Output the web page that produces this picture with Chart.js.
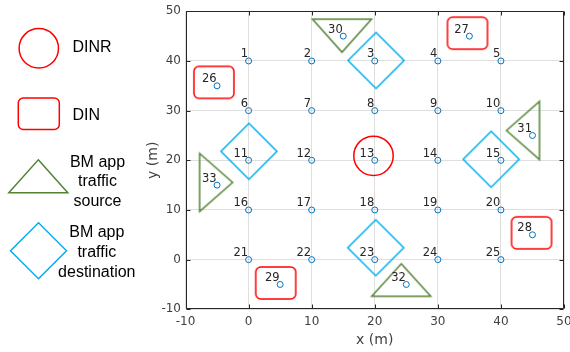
<!DOCTYPE html>
<html>
<head>
<meta charset="utf-8">
<script src="https://cdn.jsdelivr.net/npm/chart.js@4/dist/chart.umd.min.js"></script>
<style>
  html, body { margin: 0; padding: 0; background: #fff; }
  #wrap { position: relative; width: 570px; height: 352px; }
</style>
</head>
<body>
<div id="wrap"><canvas id="c" width="570" height="352"></canvas></div>
<script>
// Node numbers and positions (m): 25 grid nodes, then 8 extra nodes
const nodeIds = [1, 2, 3, 4, 5, 6, 7, 8, 9, 10, 11, 12, 13, 14, 15, 16, 17, 18, 19, 20,
                 21, 22, 23, 24, 25, 26, 27, 28, 29, 30, 31, 32, 33];
const nodeX = [0, 10, 20, 30, 40, 0, 10, 20, 30, 40, 0, 10, 20, 30, 40, 0, 10, 20, 30, 40,
               0, 10, 20, 30, 40, -5, 35, 45, 5, 15, 45, 25, -5];
const nodeY = [40, 40, 40, 40, 40, 30, 30, 30, 30, 30, 20, 20, 20, 20, 20, 10, 10, 10, 10, 10,
               0, 0, 0, 0, 0, 35, 45, 5, -5, 45, 25, -5, 15];

// DINR marker centre
const dinrX = [19.8];
const dinrY = [20.9];
// DIN markers (around nodes 26, 27, 28, 29)
const dinX = [-5.5, 34.7, 44.85, 4.3];
const dinY = [35.7, 45.6, 5.4, -4.7];
// BM app traffic sources (around nodes 30, 31, 32, 33)
const srcX = [14.8, 43.5, 24.2, -5.15];
const srcY = [45.1, 26.0, -4.1, 15.55];
// BM app traffic destinations (around nodes 3, 11, 15, 23)
const dstX = [20.2, 0.05, 38.45, 20.15];
const dstY = [40.1, 21.8, 20.2, 2.4];

// Axis ticks
const xTicks = [-10, 0, 10, 20, 30, 40, 50];
const yTicks = [-10, 0, 10, 20, 30, 40, 50];

// Legend entries
const legendLabels = [['DINR'], ['DIN'], ['BM app', 'traffic', 'source'], ['BM app', 'traffic', 'destination']];

const RED = '#ff0000';
const GREEN = '#548235';
const CYAN = '#00b0f0';
const BLUE = '#0072bd';
const AXIS = '#262626';

// ---- shape paths ----
function pathRoundRect(ctx, cx, cy, w, h, r) {
  const x = cx - w / 2, y = cy - h / 2;
  ctx.beginPath();
  ctx.moveTo(x + r, y);
  ctx.lineTo(x + w - r, y);
  ctx.arcTo(x + w, y, x + w, y + r, r);
  ctx.lineTo(x + w, y + h - r);
  ctx.arcTo(x + w, y + h, x + w - r, y + h, r);
  ctx.lineTo(x + r, y + h);
  ctx.arcTo(x, y + h, x, y + h - r, r);
  ctx.lineTo(x, y + r);
  ctx.arcTo(x, y, x + r, y, r);
  ctx.closePath();
}
function pathTri(ctx, cx, cy, w, h, dir) {
  const l = cx - w / 2, r = cx + w / 2, t = cy - h / 2, b = cy + h / 2;
  ctx.beginPath();
  if (dir === 'up') { ctx.moveTo(cx, t); ctx.lineTo(r, b); ctx.lineTo(l, b); }
  else if (dir === 'down') { ctx.moveTo(l, t); ctx.lineTo(r, t); ctx.lineTo(cx, b); }
  else if (dir === 'left') { ctx.moveTo(l, cy); ctx.lineTo(r, t); ctx.lineTo(r, b); }
  else { ctx.moveTo(l, t); ctx.lineTo(r, cy); ctx.lineTo(l, b); }
  ctx.closePath();
}
function pathDiamond(ctx, cx, cy, hw, hh) {
  ctx.beginPath();
  ctx.moveTo(cx, cy - hh);
  ctx.lineTo(cx + hw, cy);
  ctx.lineTo(cx, cy + hh);
  ctx.lineTo(cx - hw, cy);
  ctx.closePath();
}

// Build an outline image used as a point style
function makeStyle(w, h, color, pathFn) {
  const m = 3;
  const cv = document.createElement('canvas');
  cv.width = Math.ceil(w + 2 * m);
  cv.height = Math.ceil(h + 2 * m);
  const g = cv.getContext('2d');
  g.strokeStyle = color;
  g.lineWidth = 1.5;
  g.lineJoin = 'miter';
  pathFn(g, cv.width / 2, cv.height / 2);
  g.stroke();
  return cv;
}

const dinStyle = makeStyle(40, 32, RED, (g, cx, cy) => pathRoundRect(g, cx, cy, 40, 32, 5));
const triStyles = {
  down: makeStyle(59, 33, GREEN, (g, cx, cy) => pathTri(g, cx, cy, 59, 33, 'down')),
  left: makeStyle(33, 58, GREEN, (g, cx, cy) => pathTri(g, cx, cy, 33, 58, 'left')),
  up: makeStyle(59, 32.5, GREEN, (g, cx, cy) => pathTri(g, cx, cy, 59, 32.5, 'up')),
  right: makeStyle(33, 58, GREEN, (g, cx, cy) => pathTri(g, cx, cy, 33, 58, 'right'))
};
const srcDir = ['down', 'left', 'up', 'right'];
const dstStyle = makeStyle(56, 56, CYAN, (g, cx, cy) => pathDiamond(g, cx, cy, 28, 28));

const pts = (xs, ys) => xs.map((x, i) => ({ x: x, y: ys[i] }));

// Frame, inward ticks, node numbers and the side legend
const decorations = {
  id: 'decorations',
  afterDatasetsDraw(chart) {
    const ctx = chart.ctx;
    const a = chart.chartArea;
    const xs = chart.scales.x, ys = chart.scales.y;
    ctx.save();

    // node numbers
    ctx.font = '11.5px "DejaVu Sans"';
    ctx.fillStyle = AXIS;
    ctx.textAlign = 'right';
    ctx.textBaseline = 'alphabetic';
    nodeIds.forEach((id, i) => {
      const px = xs.getPixelForValue(nodeX[i]);
      const py = ys.getPixelForValue(nodeY[i]);
      ctx.fillText(String(id), px - 0.5, py - 3.5);
    });

    // frame and ticks
    ctx.strokeStyle = AXIS;
    ctx.lineWidth = 1;
    const L = Math.round(a.left) + 0.5, R = Math.round(a.right) - 0.5;
    const T = Math.round(a.top) + 0.5, B = Math.round(a.bottom) - 0.5;
    ctx.beginPath();
    ctx.rect(L, T, R - L, B - T);
    const tl = 4;
    xTicks.forEach(v => {
      const px = Math.round(xs.getPixelForValue(v)) + 0.5;
      ctx.moveTo(px, B); ctx.lineTo(px, B - tl);
      ctx.moveTo(px, T); ctx.lineTo(px, T + tl);
    });
    yTicks.forEach(v => {
      const py = Math.round(ys.getPixelForValue(v)) + 0.5;
      ctx.moveTo(L, py); ctx.lineTo(L + tl, py);
      ctx.moveTo(R, py); ctx.lineTo(R - tl, py);
    });
    ctx.stroke();

    // legend
    ctx.lineWidth = 1.5;
    ctx.strokeStyle = RED;
    ctx.beginPath(); ctx.arc(38.8, 48.3, 19.7, 0, Math.PI * 2); ctx.stroke();
    pathRoundRect(ctx, 38.8, 113.8, 41, 31.5, 5); ctx.stroke();
    ctx.strokeStyle = GREEN;
    pathTri(ctx, 38.3, 176.3, 59, 33, 'up'); ctx.stroke();
    ctx.strokeStyle = CYAN;
    pathDiamond(ctx, 38.5, 250.7, 28, 28); ctx.stroke();

    ctx.fillStyle = '#000';
    ctx.font = '16px "Liberation Sans", Arial, sans-serif';
    ctx.textAlign = 'left';
    ctx.fillText(legendLabels[0][0], 72.5, 51.7);
    ctx.fillText(legendLabels[1][0], 72.5, 120);
    ctx.textAlign = 'center';
    legendLabels[2].forEach((s, i) => ctx.fillText(s, 97.5, 166.7 + i * 19.7));
    legendLabels[3].forEach((s, i) => ctx.fillText(s, 96.8, 237.3 + i * 19.7));

    ctx.restore();
  }
};

const gridCfg = { color: 'rgba(38,38,38,0.15)', drawTicks: false, lineWidth: 1 };
const tickFont = { family: 'DejaVu Sans', size: 12 };

new Chart(document.getElementById('c'), {
  type: 'scatter',
  data: {
    datasets: [
      { label: 'nodes', data: pts(nodeX, nodeY), pointStyle: 'circle', pointRadius: 3,
        borderColor: BLUE, backgroundColor: 'rgba(0,0,0,0)', borderWidth: 1 },
      { label: 'DINR', data: pts(dinrX, dinrY), pointStyle: 'circle', pointRadius: 19.7,
        borderColor: RED, backgroundColor: 'rgba(0,0,0,0)', borderWidth: 1.5 },
      { label: 'DIN', data: pts(dinX, dinY), pointStyle: dinStyle, pointRadius: 10 },
      { label: 'BM app traffic source', data: pts(srcX, srcY),
        pointStyle: srcDir.map(d => triStyles[d]), pointRadius: 10 },
      { label: 'BM app traffic destination', data: pts(dstX, dstY), pointStyle: dstStyle, pointRadius: 10 }
    ]
  },
  options: {
    responsive: false,
    animation: false,
    events: [],
    layout: { autoPadding: false, padding: { left: 140, right: 6, top: 11.3, bottom: 3.7 } },
    plugins: { legend: { display: false }, tooltip: { enabled: false } },
    scales: {
      x: {
        type: 'linear', min: -10, max: 50,
        afterBuildTicks: s => { s.ticks = xTicks.map(v => ({ value: v })); },
        afterFit: s => { s.height = 39; s.paddingLeft = 0; s.paddingRight = 0; },
        grid: gridCfg,
        border: { display: false },
        ticks: { font: tickFont, color: '#404040', padding: 5, maxRotation: 0 },
        title: { display: true, text: 'x (m)', color: '#404040',
                 font: { family: 'DejaVu Sans', size: 14 }, padding: { top: 0, bottom: 0 } }
      },
      y: {
        type: 'linear', min: -10, max: 50,
        afterBuildTicks: s => { s.ticks = yTicks.map(v => ({ value: v })); },
        afterFit: s => { s.width = 45.5; s.paddingTop = 0; s.paddingBottom = 0; },
        grid: gridCfg,
        border: { display: false },
        ticks: { font: tickFont, color: '#404040', padding: 4.5 },
        title: { display: true, text: 'y (m)', color: '#404040',
                 font: { family: 'DejaVu Sans', size: 14 }, padding: { top: 5, bottom: 0 } }
      }
    }
  },
  plugins: [decorations]
});
</script>
</body>
</html>
